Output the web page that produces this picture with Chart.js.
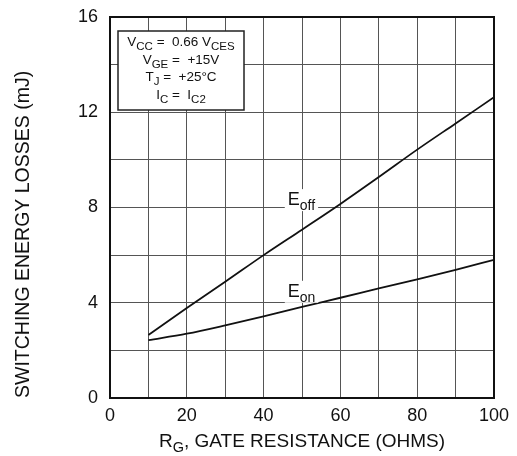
<!DOCTYPE html>
<html>
<head>
<meta charset="utf-8">
<script src="https://cdn.jsdelivr.net/npm/chart.js@4/dist/chart.umd.min.js"></script>
<style>
  html, body { margin: 0; padding: 0; background: #fff; }
  #wrap { width: 517px; height: 456px; }
</style>
</head>
<body>
<div id="wrap"><canvas id="lossChart" width="517" height="456"></canvas></div>
<script>
// gate resistance (ohms)
const rg = [10, 20, 30, 40, 50, 60, 70, 80, 90, 100];
// switching energy losses (mJ)
const eoff = [2.65, 3.78, 4.88, 6.0, 7.07, 8.15, 9.28, 10.43, 11.53, 12.63];
const eon = [2.43, 2.7, 3.05, 3.43, 3.83, 4.21, 4.6, 4.98, 5.38, 5.8];
const xTickLabels = [0, 20, 40, 60, 80, 100];
const yTickLabels = [0, 4, 8, 12, 16];

const FONT = '"Liberation Sans", Arial, sans-serif';

function toPoints(ys) {
  return rg.map((x, i) => ({ x: x, y: ys[i] }));
}

// text with subscripts; parts = [[text, isSub], ...]
function richWidth(ctx, parts, size, subSize) {
  let w = 0;
  parts.forEach(p => {
    ctx.font = (p[1] ? subSize : size) + 'px ' + FONT;
    w += ctx.measureText(p[0]).width;
  });
  return w;
}
function drawRich(ctx, parts, x, y, size, subSize, drop, align) {
  let w = richWidth(ctx, parts, size, subSize);
  let cx = align === 'center' ? x - w / 2 : x;
  ctx.textBaseline = 'alphabetic';
  ctx.textAlign = 'left';
  parts.forEach(p => {
    ctx.font = (p[1] ? subSize : size) + 'px ' + FONT;
    ctx.fillText(p[0], cx, p[1] ? y + drop : y);
    cx += ctx.measureText(p[0]).width;
  });
  return w;
}

const annotations = {
  id: 'annotations',
  afterDatasetsDraw(chart) {
    const ctx = chart.ctx;
    const a = chart.chartArea;
    const xs = chart.scales.x, ys = chart.scales.y;
    ctx.save();
    ctx.fillStyle = '#111';

    // curve labels with white backing
    const labels = [
      { parts: [['E', false], ['off', true]], x: 46.3, y: 8.1 },
      { parts: [['E', false], ['on', true]], x: 46.3, y: 4.25 }
    ];
    labels.forEach(l => {
      const px = xs.getPixelForValue(l.x), py = ys.getPixelForValue(l.y);
      const w = richWidth(ctx, l.parts, 18, 14);
      ctx.fillStyle = '#fff';
      ctx.fillRect(px - 3, py - 16, w + 6, 22);
      ctx.fillStyle = '#111';
      drawRich(ctx, l.parts, px, py, 18, 14, 5, 'left');
    });

    // conditions box
    const bx = a.left + 8, by = a.top + 14, bw = 126, bh = 79;
    ctx.fillStyle = '#fff';
    ctx.fillRect(bx, by, bw, bh);
    ctx.strokeStyle = '#222';
    ctx.lineWidth = 1.5;
    ctx.strokeRect(bx, by, bw, bh);
    ctx.fillStyle = '#111';
    const lines = [
      [['V', false], ['CC', true], [' =  0.66 V', false], ['CES', true]],
      [['V', false], ['GE', true], [' =  +15V', false]],
      [['T', false], ['J', true], [' =  +25°C', false]],
      [['I', false], ['C', true], [' =  I', false], ['C2', true]]
    ];
    lines.forEach((ln, i) => {
      drawRich(ctx, ln, bx + bw / 2, by + 15 + i * 17.5, 13.5, 11.5, 4, 'center');
    });

    // x axis title
    drawRich(ctx, [['R', false], ['G', true], [', GATE RESISTANCE (OHMS)', false]],
      (a.left + a.right) / 2, 447, 19, 14.5, 5, 'center');

    // plot frame
    ctx.strokeStyle = '#111';
    ctx.lineWidth = 2;
    ctx.strokeRect(a.left, a.top, a.right - a.left, a.bottom - a.top);
    ctx.restore();
  }
};

new Chart(document.getElementById('lossChart'), {
  type: 'line',
  data: {
    datasets: [
      {
        label: 'Eoff',
        data: toPoints(eoff),
        borderColor: '#111',
        borderWidth: 1.8,
        pointRadius: 0,
        fill: false,
        cubicInterpolationMode: 'monotone'
      },
      {
        label: 'Eon',
        data: toPoints(eon),
        borderColor: '#111',
        borderWidth: 1.8,
        pointRadius: 0,
        fill: false,
        cubicInterpolationMode: 'monotone'
      }
    ]
  },
  options: {
    responsive: false,
    animation: false,
    events: [],
    layout: { padding: { left: 0, right: 23, top: 17, bottom: 0 } },
    plugins: {
      legend: { display: false },
      tooltip: { enabled: false },
      title: { display: false }
    },
    scales: {
      x: {
        type: 'linear',
        min: 0,
        max: 100,
        afterFit(scale) {
          scale.height = 58;
          scale.paddingLeft = 0;
          scale.paddingRight = 0;
        },
        border: { display: false },
        grid: { color: '#555', lineWidth: 1, drawTicks: false },
        ticks: {
          stepSize: 10,
          padding: 7,
          maxRotation: 0,
          autoSkip: false,
          color: '#111',
          font: { family: FONT, size: 18 },
          callback: v => xTickLabels.includes(v) ? String(v) : ''
        }
      },
      y: {
        min: 0,
        max: 16,
        afterFit(scale) {
          scale.width = 110;
          scale.paddingTop = 0;
          scale.paddingBottom = 0;
        },
        border: { display: false },
        grid: { color: '#555', lineWidth: 1, drawTicks: false },
        title: {
          display: true,
          text: 'SWITCHING ENERGY LOSSES (mJ)',
          align: 'start',
          color: '#111',
          font: { family: FONT, size: 19.5 },
          padding: { top: 12, bottom: 0 }
        },
        ticks: {
          stepSize: 2,
          padding: 12,
          autoSkip: false,
          color: '#111',
          font: { family: FONT, size: 18 },
          callback: v => yTickLabels.includes(v) ? String(v) : ''
        }
      }
    }
  },
  plugins: [annotations]
});
</script>
</body>
</html>
